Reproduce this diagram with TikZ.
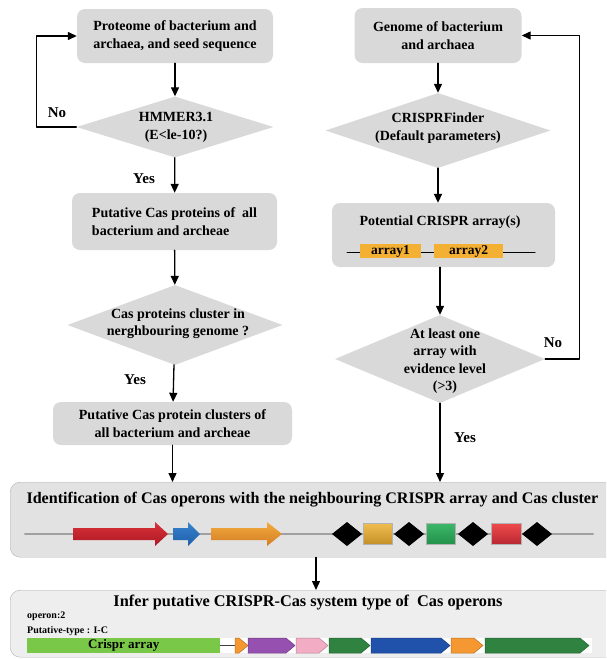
\documentclass[tikz,border=0pt]{standalone}
\usepackage{fontspec}
\setmainfont{Liberation Serif}
\usetikzlibrary{arrows.meta,shapes.geometric}
\definecolor{Bx}{RGB}{217, 217, 217}
\definecolor{Bg}{RGB}{226, 226, 226}
\definecolor{Bl}{RGB}{238, 238, 238}
\definecolor{Ed}{RGB}{178, 178, 178}
\definecolor{Ln}{RGB}{160, 160, 160}
\definecolor{Ar}{RGB}{244, 176, 50}
\definecolor{Cg}{RGB}{122, 200, 72}
\definecolor{gOr}{RGB}{245, 152, 50}
\definecolor{gPu}{RGB}{150, 80, 175}
\definecolor{gPk}{RGB}{242, 172, 195}
\definecolor{gDg}{RGB}{48, 130, 64}
\definecolor{gBl}{RGB}{32, 82, 172}

\begin{document}
\begin{tikzpicture}[>={Triangle[length=9pt,width=8pt]}, line cap=round, line join=round, x=1pt, y=-1pt,
  box/.style={fill=Bx, rounded corners=8pt, align=center, font=\bfseries\fontsize{14}{18}\selectfont},
  decide/.style={diamond, fill=Bx, inner sep=0pt},
  dtext/.style={align=center, font=\bfseries\fontsize{14}{17.5}\selectfont},
  lab/.style={font=\bfseries\fontsize{15}{16}\selectfont},
  flow/.style={->, line width=1.3pt}]
  \useasboundingbox (0,0) rectangle (606,659);
  \clip (0,0) rectangle (606,659);

  % left column
  \node[box, minimum width=196pt, minimum height=54pt] (prot) at (175,36) {Proteome of bacterium and\\archaea, and seed sequence};
  \node[decide, minimum width=197pt, minimum height=61pt] (hmm) at (175,127) {};
  \node[dtext] (hmmT) at (176,127.5) {HMMER3.1\\(E<le-10?)};
  \node[box, align=left, minimum width=205pt, minimum height=57pt] (cas) at (174.5,221.5) {Putative Cas proteins of~ all\\bacterium and archeae};
  \node[decide, minimum width=215pt, minimum height=80pt] (nei) at (175,325) {};
  \node[dtext] (neiT) at (178,323.5) {Cas proteins cluster in\\nerghbouring genome ?};
  \node[box, minimum width=239pt, minimum height=43pt] (clus) at (172.5,423.5) {Putative Cas protein clusters of\\all bacterium and archeae};

  % right column
  \node[box, minimum width=167pt, minimum height=55pt] (gen) at (438,35.5) {Genome of bacterium\\and archaea};
  \node[decide, minimum width=225pt, minimum height=75pt] (crf) at (438,130.5) {};
  \node[dtext] (crfT) at (438,128) {CRISPRFinder\\(Default parameters)};
  \node[box, minimum width=223pt, minimum height=64pt] (pot) at (443.5,235) {};
  \node[lab, font=\bfseries\fontsize{14}{16}\selectfont] (potT) at (440,222) {Potential CRISPR array(s)};
  \draw[line width=1pt] (347,252) -- (535,252);
  \node[fill=Ar, minimum width=61pt, minimum height=14pt, inner sep=0pt, font=\bfseries\fontsize{13.5}{14}\selectfont] (a1) at (390.5,251) {array1};
  \node[fill=Ar, minimum width=69pt, minimum height=14pt, inner sep=0pt, font=\bfseries\fontsize{13.5}{14}\selectfont] (a2) at (468.5,251) {array2};
  \node[decide, minimum width=210pt, minimum height=88pt] (evid) at (440,359) {};
  \node[dtext] (evidT) at (445,361) {At least one\\array with\\evidence level\\(>3)};

  % flow
  \draw[flow] (prot) -- (hmm);
  \draw[flow] (hmm) -- (cas);
  \draw[flow] (cas) -- (nei);
  \draw[flow] (nei) -- (clus);
  \draw[flow] (hmm.west) -- ++(-40,0) |- (prot.west);
  \draw[flow] (gen.south) -- (gen.south |- crf.north);
  \draw[flow, line width=1.8pt] (crf.south) -- (crf.south |- pot.north);
  \draw[flow] (evid.north |- pot.south) -- (evid.north);
  \draw[flow] (evid.east) -- ++(34,0) |- (gen.east);
  \node[lab] (no1) at (57,113) {No};
  \node[lab] (yes1) at (144,179) {Yes};
  \node[lab] (yes2) at (135,380) {Yes};
  \node[lab] (no2) at (553,343) {No};
  \node[lab] (yes3) at (465,438) {Yes};

  % operon identification
  \node[fill=Bg, draw=Ed, rounded corners=10pt, minimum width=640pt, minimum height=75pt, anchor=north west] (ident) at (10,482) {};
  \node[font=\bfseries\fontsize{16.1}{18}\selectfont, anchor=west] (identT) at (23,500) {Identification of Cas operons with the neighbouring CRISPR array and Cas cluster};
  \draw[flow] (clus.south) -- (clus.south |- ident.north);
  \draw[flow] (evid.south) -- (evid.south |- ident.north);
  \draw[Ln, line width=2pt] (25,534) -- (593,534);
  \def\casarrow#1#2#3#4#5{\shade[top color=#4, bottom color=#5] (#1,528) -- (#3,528) -- (#3,522) -- (#2,534) -- (#3,546) -- (#3,540) -- (#1,540) -- cycle;}
  \casarrow{73}{168}{155}{{rgb,255:red,218;green,48;blue,58}}{{rgb,255:red,172;green,26;blue,36}}
  \casarrow{173}{200}{188}{{rgb,255:red,55;green,130;blue,205}}{{rgb,255:red,30;green,95;blue,170}}
  \casarrow{211}{282}{267}{{rgb,255:red,242;green,172;blue,62}}{{rgb,255:red,212;green,124;blue,36}}
  \foreach \cx in {347,409,473,537}
    \fill (\cx-15,534) -- (\cx,522) -- (\cx+15,534) -- (\cx,546) -- cycle;
  \shade[top color={rgb,255:red,240;green,190;blue,80}, bottom color={rgb,255:red,195;green,145;blue,40}, draw=Ed] (363,523) rectangle (392,544);
  \shade[top color={rgb,255:red,60;green,185;blue,105}, bottom color={rgb,255:red,35;green,145;blue,75}, draw=Ed] (426,523) rectangle (455,544);
  \shade[top color={rgb,255:red,240;green,75;blue,75}, bottom color={rgb,255:red,185;green,40;blue,50}, draw=Ed] (491,523) rectangle (521,544);

  % type inference
  \node[fill=Bl, draw=Ed, rounded corners=10pt, minimum width=640pt, minimum height=67pt, anchor=north west] (infer) at (10,590) {};
  \draw[flow] (ident.south -| 316,0) -- (infer.north -| 316,0);
  \node[font=\bfseries\fontsize{16.3}{18}\selectfont] (inferT) at (308,603) {Infer putative CRISPR-Cas system type of~ Cas operons};
  \node[font=\bfseries\fontsize{10}{12}\selectfont, anchor=west, inner sep=0pt] (opn) at (27,616) {operon:2};
  \node[font=\bfseries\fontsize{10}{12}\selectfont, anchor=west, inner sep=0pt] (ptype) at (27,631) {Putative-type : I-C};
  \fill[white] (220,638) rectangle (592,653);
  \node[fill=Cg, minimum width=193pt, minimum height=15pt, inner sep=0pt, anchor=west, font=\bfseries\fontsize{13}{13}\selectfont] (crispr) at (27,645.5) {Crispr array};
  \coordinate (g0) at (235,645.5);
  \draw[line width=1.5pt, black!75] (crispr.east) -- (g0);

  % gene arrays
  \def\gstart#1{\ifcase#1 235\or 248\or 296\or 329\or 371\or 451\or 485\fi}
  \def\gend#1{\ifcase#1 248\or 295\or 328\or 370\or 450\or 483\or 589\fi}
  \def\gcol#1{\ifcase#1 gOr\or gPu\or gPk\or gDg\or gBl\or gOr\or gDg\fi}

  \foreach \i in {0,...,6}{
    \pgfmathsetmacro{\ga}{\gstart{\i}}
    \pgfmathsetmacro{\gb}{\gend{\i}}
    \edef\col{\gcol{\i}}
    \filldraw[fill=\col, draw=\col!75!black, line width=0.5pt] (\ga,638) -- (\gb-9,638) -- (\gb,645.5) -- (\gb-9,653) -- (\ga,653) -- cycle;
  }

\end{tikzpicture}
\end{document}
